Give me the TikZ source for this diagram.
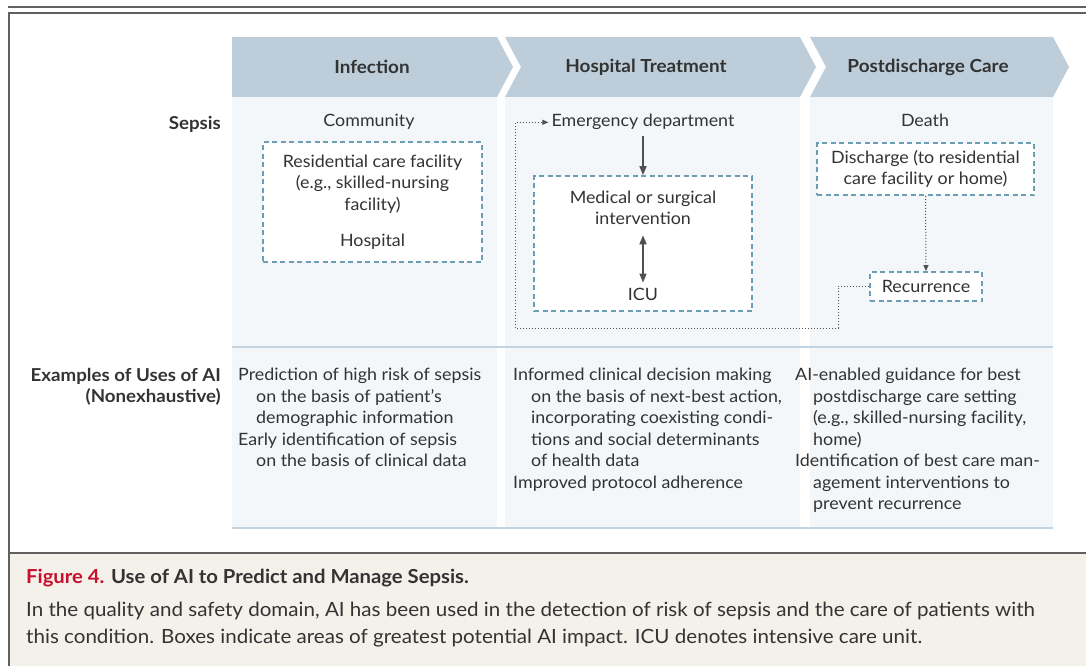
\documentclass[tikz,border=0pt]{standalone}
\usepackage{fontspec}
\setmainfont{Lato}[FakeStretch=1.05]
\usetikzlibrary{arrows.meta, positioning}

\definecolor{headfill}{HTML}{BDCEDA}
\definecolor{panelfill}{HTML}{F3F7FA}
\definecolor{boxline}{HTML}{6B9DB5}
\definecolor{ruleline}{HTML}{C3D3DF}
\definecolor{inkgrey}{HTML}{333333}
\definecolor{arrowgrey}{HTML}{505050}
\definecolor{capfill}{HTML}{F4F1EB}
\definecolor{figred}{HTML}{C8102E}
\definecolor{framegrey}{HTML}{606060}

\begin{document}
\begin{tikzpicture}[x=1pt, y=-1pt,
    % Define node styles
    every node/.style={text=inkgrey, inner sep=0pt},
    body/.style={font=\fontsize{17}{21.5}\selectfont},
    head/.style={font=\fontsize{18}{21}\selectfont\bfseries},
    rowlabel/.style={font=\fontsize{17.8}{21.5}\selectfont\bfseries, align=right},
    dashbox/.style={draw=boxline, dash pattern=on 5pt off 3.5pt, line width=1.8pt,
                    fill=white, align=center, body},
    usetext/.style={body, align=left, anchor=north west},
    flow/.style={line width=1.5pt, draw=arrowgrey},
    loopline/.style={dotted, line width=1pt, draw=arrowgrey},
    frame/.style={draw=framegrey, line width=1.4pt}
]
    \useasboundingbox (0,0) rectangle (1086,666);

    % Frame and caption area
    \fill[capfill] (9,553) rectangle (1086,666);
    \draw[frame, line width=1.1pt] (8,7) -- (1086,7);
    \draw[frame] (1090,13) -- (9,13) -- (9,666);
    \draw[frame] (9,553) -- (1086,553);

    % Column panels
    \fill[panelfill] (232,97) rectangle (497,527);
    \fill[panelfill] (505,97) rectangle (800,527);
    \fill[panelfill] (810,97) rectangle (1053,527);
    \draw[ruleline, line width=2.5pt] (232,347) -- (1053,347);
    \draw[ruleline, line width=2.5pt] (232,528) -- (1053,528);

    % Header chevrons
    \fill[headfill] (232,37) -- (497,37) -- (513,67) -- (497,97) -- (232,97) -- cycle;
    \fill[headfill] (505,37) -- (800,37) -- (816,67) -- (800,97) -- (505,97) -- (521,67) -- cycle;
    \fill[headfill] (810,37) -- (1053,37) -- (1069,67) -- (1053,97) -- (810,97) -- (826,67) -- cycle;
    \node[head] (hdInf) at (372,67) {Infection};
    \node[head] (hdHosp) at (646,67) {Hospital Treatment};
    \node[head] (hdPost) at (928,67) {Postdischarge Care};

    % Row labels
    \node[rowlabel, anchor=east] (sepsis) at (221,124) {Sepsis};
    \node[rowlabel, anchor=north east] (examples) at (221,368)
        {Examples of Uses of AI\\(Nonexhaustive)};

    % Infection column
    \node[body, anchor=base] (community) at (369,127) {Community};
    \node[dashbox, minimum width=219pt, minimum height=120pt] (resid) at (372.5,202)
        {Residential care facility\\(e.g., skilled-nursing\\facility)\\[15pt]Hospital};

    % Hospital column
    \node[body, inner sep=3pt, anchor=base] (ed) at (643,127) {Emergency department};
    \node[dashbox, minimum width=218pt, minimum height=135pt] (hospbox) at (643,243.5) {};
    \node[body, align=center] (surg) at (643,208) {Medical or surgical\\intervention};
    \node[body] (icu) at (643,294) {ICU};

    % Postdischarge column
    \node[body, anchor=base] (death) at (925,127) {Death};
    \node[dashbox, minimum width=217pt, minimum height=52pt] (disch) at (925.5,169)
        {Discharge (to residential\\care facility or home)};
    \node[dashbox, minimum width=112pt, minimum height=29pt] (recur) at (926,286.5) {Recurrence};

    % Arrows
    \draw[flow, -{Triangle[length=9pt,width=7pt]}] ([yshift=-3pt]ed.south) -- (hospbox.north);
    \draw[flow, {Triangle[length=9pt,width=7pt]}-{Triangle[length=9pt,width=7pt]}]
        ([yshift=-10pt]surg.south) -- ([yshift=5pt]icu.north);
    \draw[loopline, -{Triangle[length=6pt,width=5pt]}] (disch.south) -- (recur.north);
    \coordinate (loopR) at (838,328);
    \coordinate (loopL) at (515,328);
    \draw[loopline, -{Triangle[length=6pt,width=5pt]}]
        (recur.west) -| (loopR) -- (loopL) |- (ed.west);

    % Examples of uses of AI
    \node[usetext] (useInf) at (238,368)
        {Prediction of high risk of sepsis\\
         \hspace*{18pt}on the basis of patient's\\
         \hspace*{18pt}demographic information\\
         Early identification of sepsis\\
         \hspace*{18pt}on the basis of clinical data};
    \node[usetext] (useHosp) at (513,368)
        {Informed clinical decision making\\
         \hspace*{18pt}on the basis of next-best action,\\
         \hspace*{18pt}incorporating coexisting condi-\\
         \hspace*{18pt}tions and social determinants\\
         \hspace*{18pt}of health data\\
         Improved protocol adherence};
    \node[usetext] (usePost) at (795,368)
        {AI-enabled guidance for best\\
         \hspace*{18pt}postdischarge care setting\\
         \hspace*{18pt}(e.g., skilled-nursing facility,\\
         \hspace*{18pt}home)\\
         Identification of best care man-\\
         \hspace*{18pt}agement interventions to\\
         \hspace*{18pt}prevent recurrence};

    % Caption
    \node[anchor=west, font=\fontsize{19.3}{27}\selectfont\bfseries] (figtitle) at (26,578)
        {\textcolor{figred}{Figure 4.} Use of AI to Predict and Manage Sepsis.};
    \node[anchor=north west, align=left, font=\fontsize{19.6}{27}\selectfont] (figtext) at (26,602)
        {In the quality and safety domain, AI has been used in the detection of risk of sepsis and the care of patients with\\
         this condition. Boxes indicate areas of greatest potential AI impact. ICU denotes intensive care unit.};
\end{tikzpicture}
\end{document}
